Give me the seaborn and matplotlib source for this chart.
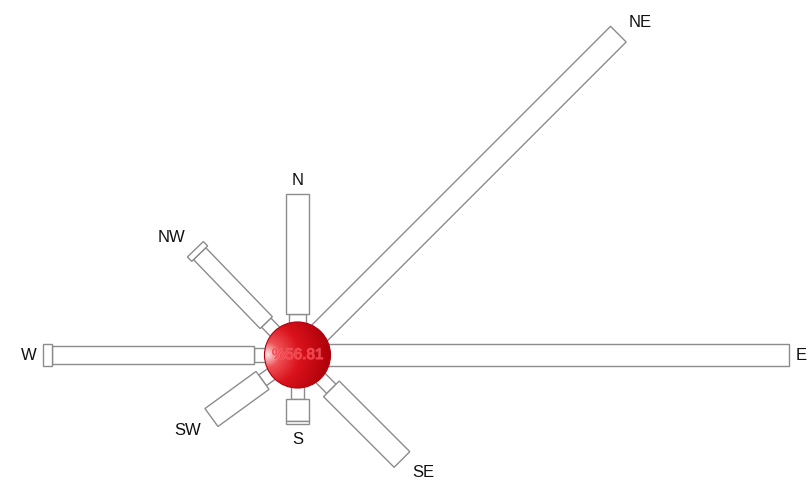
import numpy as np
import matplotlib.pyplot as plt
import matplotlib.patheffects as pe
import seaborn as sns
from matplotlib.patches import Circle

sns.set_style("white")
plt.rcParams['font.family'] = ['Liberation Sans', 'DejaVu Sans']

# Wind directions and bar angles (degrees, counter-clockwise from east)
directions = ['N', 'NE', 'E', 'SE', 'S', 'SW', 'W', 'NW']
angles = [90, 45, 0, 315, 270, 216, 180, 134]

# Frequency (%) per speed class for each direction (inner -> outer)
class1 = [0.00, 0.00, 0.00, 0.41, 0.30, 0.28, 0.28, 0.33]
class2 = [0.22, 0.00, 0.00, 0.00, 0.00, 0.00, 5.56, 2.64]
class3 = [3.31, 11.59, 12.63, 2.75, 0.61, 1.74, 0.25, 0.17]
class4 = [0.00, 0.00, 0.00, 0.00, 0.08, 0.00, 0.00, 0.00]
calm_pct = 56.81

# Bar width per speed class, in the same units as the radial axis
class_widths = [0.36, 0.47, 0.61, 0.66]
calm_radius = 0.91

px = 36.3  # pixels per percent
fig = plt.figure(figsize=(8.1, 4.89), dpi=100)
ax = fig.add_axes([0, 0, 1, 1])
ax.set_xlim(-297.5 / px, (810 - 297.5) / px)
ax.set_ylim(-(489 - 356) / px, 356 / px)
ax.set_aspect('equal')
ax.set_axis_off()

classes = [class1, class2, class3, class4]
for i, (name, ang) in enumerate(zip(directions, angles)):
    t = np.deg2rad(ang)
    u = np.array([np.cos(t), np.sin(t)])
    v = np.array([-np.sin(t), np.cos(t)])
    r = calm_radius
    for cls, w in zip(classes, class_widths):
        seg = cls[i]
        if seg <= 0:
            continue
        r0 = r if r > calm_radius else calm_radius * 0.7
        r1 = r + seg
        pts = np.array([r0 * u - w / 2 * v, r1 * u - w / 2 * v,
                        r1 * u + w / 2 * v, r0 * u + w / 2 * v])
        ax.fill(pts[:, 0], pts[:, 1], facecolor='white', edgecolor='#8c8c8c',
                linewidth=1.0, zorder=2)
        r = r1
    # direction label just beyond the tip
    tip = (r + 7 / px) * u
    c, s = np.cos(t), np.sin(t)
    ha = 'left' if c > 0.3 else ('right' if c < -0.3 else 'center')
    va = 'bottom' if s > 0.3 else ('top' if s < -0.3 else 'center')
    dx = 0
    if abs(s) > 0.3 and ha != 'center':
        dx = 5 / px if ha == 'left' else -5 / px
    ax.text(tip[0] + dx, tip[1], name, ha=ha, va=va, fontsize=12,
            color='#111111', zorder=5)

# calm circle with a shaded red sphere look
n = 200
g = np.linspace(-1, 1, n)
gx, gy = np.meshgrid(g, g)
d = np.sqrt((gx + 0.9) ** 2 + (gy - 0.0) ** 2) / 1.9
d = np.clip(d, 0, 1)
stops = np.array([0.0, 0.2, 0.5, 1.0])
cols = np.array([[255, 228, 228], [238, 80, 85], [218, 18, 28], [172, 0, 8]]) / 255
img = np.zeros((n, n, 4))
for k in range(3):
    img[..., k] = np.interp(d, stops, cols[:, k])
img[..., 3] = 1
R = calm_radius
im = ax.imshow(img, extent=[-R, R, -R, R], origin='lower', zorder=3)
circ = Circle((0, 0), R, transform=ax.transData, facecolor='none')
ax.add_patch(circ)
im.set_clip_path(circ)
ax.add_patch(Circle((0, 0), R, facecolor='none', edgecolor='#b00010',
                    linewidth=0.8, zorder=4))
ax.text(0, 0, f'%{calm_pct:.2f}', ha='center', va='center', fontsize=11,
        color='#f5404c', zorder=5,
        path_effects=[pe.withStroke(linewidth=1.0, foreground=(1, 0.6, 0.6, 0.35))])

fig.savefig('out.png', dpi=100)
